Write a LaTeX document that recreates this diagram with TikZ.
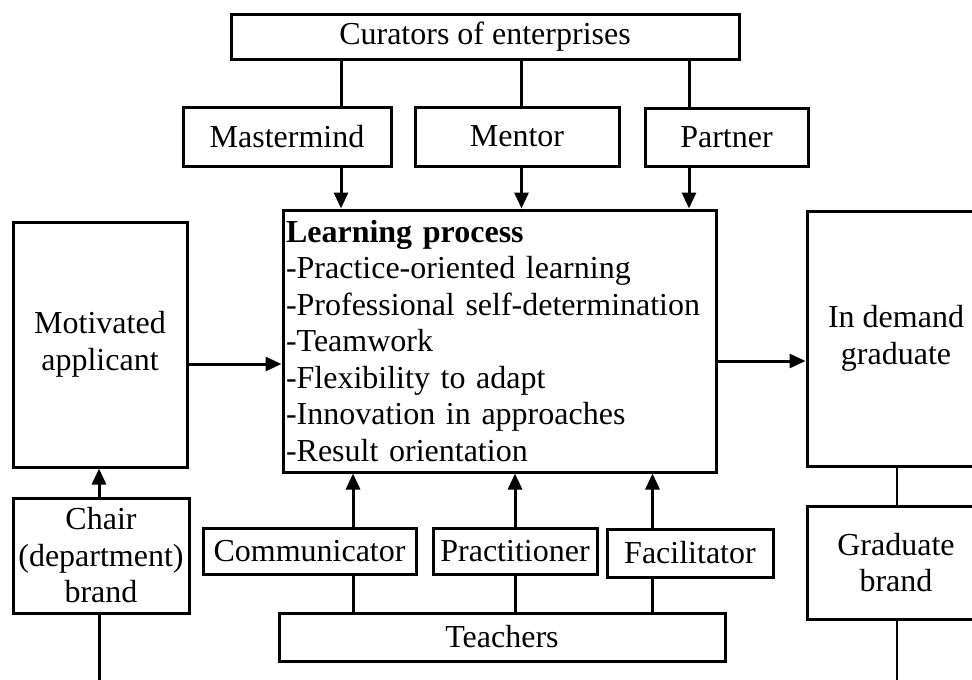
\documentclass[tikz,border=0pt]{standalone}
\usepackage{fontspec}
\setmainfont{Liberation Serif}
\usetikzlibrary{arrows.meta}
\begin{document}
\begin{tikzpicture}[x=1pt,y=-1pt,
  box/.style={draw, line width=3pt, inner sep=0pt, align=center,
    font=\fontsize{32}{36.5}\selectfont},
  conn/.style={line width=3pt},
  arr/.style={line width=3pt, -{Triangle[length=16pt,width=14pt]}},
  thin/.style={line width=1.5pt}]
\useasboundingbox (0,0) rectangle (972,680);
\fill[white] (0,0) rectangle (972,680);
\clip (0,0) rectangle (972,680);
% nodes
\node[box, minimum width=508pt, minimum height=45pt] (cur) at (485,36.5) {Curators of enterprises};
\node[box, minimum width=208pt, minimum height=59pt] (mast) at (287,136.5) {Mastermind};
\node[box, minimum width=204pt, minimum height=59pt] (ment) at (517,136.5) {Mentor};
\node[box, minimum width=163pt, minimum height=58pt] (part) at (726.5,137) {Partner};
\node[box, text width=427pt, inner xsep=3pt, minimum height=262pt, align=left] (lp) at (499.5,341)
  {\textbf{Learning process}\\-Practice-oriented learning\\-Professional self-determination\\-Teamwork\\-Flexibility to adapt\\-Innovation in approaches\\-Result orientation};
\node[box, minimum width=174pt, minimum height=245pt] (mot) at (100,344.5) {Motivated\\applicant};
\node[box, minimum width=176pt, minimum height=115pt] (chair) at (101,555.5) {Chair\\(department)\\brand};
\node[box, minimum width=178pt, minimum height=255pt] (dem) at (896,338.5) {In demand\\graduate};
\node[box, minimum width=178pt, minimum height=113pt] (grad) at (896,562.5) {Graduate\\brand};
\node[box, minimum width=213pt, minimum height=46pt] (comm) at (309.5,551) {Communicator};
\node[box, minimum width=164pt, minimum height=46pt] (prac) at (515,551) {Practitioner};
\node[box, minimum width=166pt, minimum height=48pt] (fac) at (690,553) {Facilitator};
\node[box, minimum width=446pt, minimum height=48pt] (teach) at (502,637) {Teachers};
% helper coordinates
\coordinate (x1) at (341,0);
\coordinate (x2) at (521.5,0);
\coordinate (x3) at (689,0);
\coordinate (x4) at (353,0);
\coordinate (x5) at (515,0);
\coordinate (x6) at (652.5,0);
\coordinate (xc) at (99,0);
\coordinate (xg) at (897,0);
\coordinate (yl) at (0,364);
\coordinate (yr) at (0,361);
\coordinate (chairend) at (99,682);
\coordinate (gradend) at (897,682);
% connectors top
\draw[conn] (cur.south -| x1) -- (mast.north -| x1);
\draw[conn] (cur.south -| x2) -- (ment.north -| x2);
\draw[conn] (cur.south -| x3) -- (part.north -| x3);
\draw[arr] (mast.south -| x1) -- (lp.north -| x1);
\draw[arr] (ment.south -| x2) -- (lp.north -| x2);
\draw[arr] (part.south -| x3) -- (lp.north -| x3);
% connectors bottom
\draw[conn] (teach.north -| x4) -- (comm.south -| x4);
\draw[conn] (teach.north -| x5) -- (prac.south -| x5);
\draw[conn] (teach.north -| x6) -- (fac.south -| x6);
\draw[arr] (comm.north -| x4) -- (lp.south -| x4);
\draw[arr] (prac.north -| x5) -- (lp.south -| x5);
\draw[arr] (fac.north -| x6) -- (lp.south -| x6);
% sides
\draw[arr] (mot.east |- yl) -- (lp.west |- yl);
\draw[arr] (lp.east |- yr) -- (dem.west |- yr);
\draw[arr] (chair.north -| xc) -- (mot.south -| xc);
\draw[conn] (chair.south -| xc) -- (chairend);
\draw[thin] (dem.south -| xg) -- (grad.north -| xg);
\draw[thin] (grad.south -| xg) -- (gradend);
\end{tikzpicture}
\end{document}
